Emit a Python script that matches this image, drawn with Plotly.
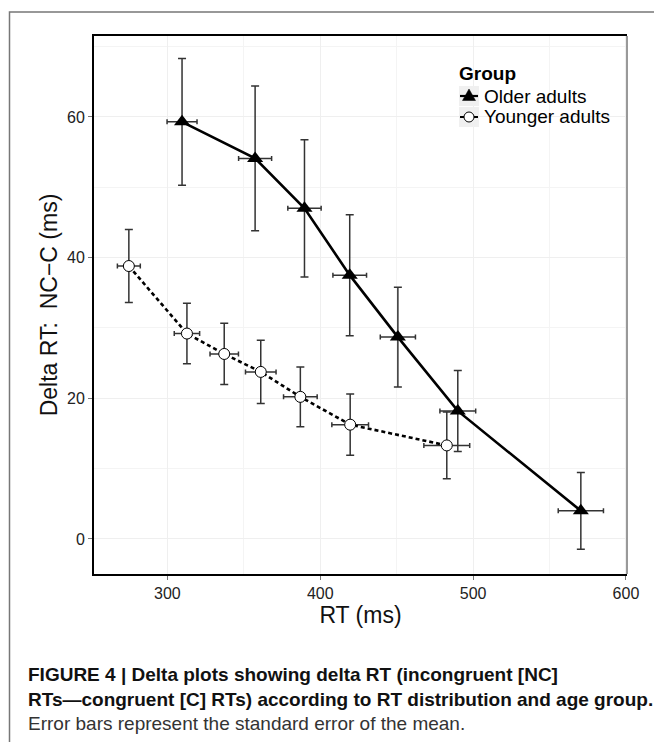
import plotly.graph_objects as go

# ---- data ----
groups = ["Older adults", "Younger adults"]

older_rt = [309.6, 357.4, 389.7, 419.3, 450.8, 490.0, 570.5]
older_delta = [59.3, 54.1, 47.0, 37.5, 28.7, 18.2, 4.0]
older_se_delta = [9.0, 10.3, 9.75, 8.6, 7.1, 5.75, 5.45]
older_se_rt = [9.8, 10.8, 10.9, 11.0, 11.5, 11.7, 14.8]

younger_rt = [274.8, 312.8, 337.2, 361.1, 387.0, 419.6, 482.8]
younger_delta = [38.8, 29.2, 26.3, 23.75, 20.2, 16.25, 13.3]
younger_se_delta = [5.2, 4.3, 4.35, 4.5, 4.25, 4.35, 4.75]
younger_se_rt = [7.5, 8.3, 9.3, 10.0, 11.0, 12.0, 15.0]

x_ticks = [300, 400, 500, 600]
y_ticks = [0, 20, 40, 60]

x_title = "RT (ms)"
y_title = "Delta RT:\u00a0 NC\u2212C (ms)"
legend_title = "Group"
caption_lines = [
    "<b>FIGURE 4 | Delta plots showing delta RT (incongruent [NC]</b>",
    "<b>RTs\u2014congruent [C] RTs) according to RT distribution and age group.</b>",
    "Error bars represent the standard error of the mean.",
]

# ---- layout geometry (page pixels; the page body has an 8px default margin) ----
OFF = 8
PAGE_W, PAGE_H = 662, 742
W, H = PAGE_W - OFF, PAGE_H - OFF
PLOT_L, PLOT_R, PLOT_T, PLOT_B = 94, 627, 36, 574  # page px
ML = PLOT_L - OFF
MT = PLOT_T - OFF
MR = W - (PLOT_R - OFF)
MB = H - (PLOT_B - OFF)
PW, PH = PLOT_R - PLOT_L, PLOT_B - PLOT_T


def pxx(px):
    return (px - PLOT_L) / PW


def pxy(py):
    return (PLOT_B - py) / PH


FONT = "Liberation Sans, Arial, Helvetica, sans-serif"
ERR_COL = "#333333"

fig = go.Figure()

fig.add_trace(go.Scatter(
    x=older_rt, y=older_delta, mode="lines+markers", name=groups[0],
    line=dict(color="black", width=2.6),
    marker=dict(symbol="triangle-up", size=14, color="black"),
    error_y=dict(type="data", array=older_se_delta, color=ERR_COL, thickness=1.5, width=4),
    error_x=dict(type="data", array=older_se_rt, color=ERR_COL, thickness=1.5, width=2.5),
    showlegend=False,
))
fig.add_trace(go.Scatter(
    x=younger_rt, y=younger_delta, mode="lines+markers", name=groups[1],
    line=dict(color="black", width=2.6, dash="4px,3px"),
    marker=dict(symbol="circle", size=11, color="white", line=dict(color="black", width=1)),
    error_y=dict(type="data", array=younger_se_delta, color=ERR_COL, thickness=1.5, width=4),
    error_x=dict(type="data", array=younger_se_rt, color=ERR_COL, thickness=1.5, width=2.5),
    showlegend=False,
))

shapes = []
annotations = []

# outer figure frame (gray, open to the right/bottom edges)
shapes.append(dict(type="rect", xref="paper", yref="paper",
                   x0=pxx(9.5), x1=pxx(720), y0=pxy(12), y1=pxy(800),
                   line=dict(color="#777777", width=1.5), layer="below"))
# right panel border (gray)
shapes.append(dict(type="line", xref="paper", yref="paper",
                   x0=1, x1=1, y0=0, y1=1, line=dict(color="#777777", width=1.5)))

# ---- manual legend ----
annotations.append(dict(xref="paper", yref="paper", x=pxx(457), y=pxy(73),
                        xanchor="left", yanchor="middle", showarrow=False,
                        text="<b>%s</b>" % legend_title,
                        font=dict(family=FONT, size=19, color="black")))
key_rows = [96, 117]
for row, name in zip(key_rows, groups):
    shapes.append(dict(type="rect", xref="paper", yref="paper",
                       x0=pxx(459), x1=pxx(479), y0=pxy(row + 10), y1=pxy(row - 10),
                       fillcolor="#f0f0f0", line=dict(width=0), layer="above"))
    annotations.append(dict(xref="paper", yref="paper", x=pxx(482), y=pxy(row),
                            xanchor="left", yanchor="middle", showarrow=False,
                            text=name, font=dict(family=FONT, size=19, color="black")))
# older key: line stub + triangle
shapes.append(dict(type="line", xref="paper", yref="paper",
                   x0=pxx(460), x1=pxx(478), y0=pxy(96), y1=pxy(96),
                   line=dict(color="black", width=2.2)))
shapes.append(dict(type="path", xref="paper", yref="paper",
                   path="M %f,%f L %f,%f L %f,%f Z" % (pxx(462.5), pxy(100.5), pxx(475.5), pxy(100.5),
                                                       pxx(469), pxy(89)),
                   fillcolor="black", line=dict(color="black", width=0.5)))
# younger key: dashed stub + circle
shapes.append(dict(type="line", xref="paper", yref="paper",
                   x0=pxx(460), x1=pxx(478), y0=pxy(117), y1=pxy(117),
                   line=dict(color="black", width=2.2, dash="4px,3px")))
shapes.append(dict(type="circle", xref="paper", yref="paper",
                   x0=pxx(464), x1=pxx(474), y0=pxy(122), y1=pxy(112),
                   fillcolor="white", line=dict(color="black", width=1)))

# ---- caption ----
cap_y = [674, 699, 723]
cap_col = ["#111111", "#111111", "#333333"]
for txt, yy, col in zip(caption_lines, cap_y, cap_col):
    annotations.append(dict(xref="paper", yref="paper", x=pxx(26), y=pxy(yy),
                            xanchor="left", yanchor="middle", showarrow=False,
                            text=txt, font=dict(family=FONT, size=19, color=col)))

fig.update_layout(
    width=W, height=H,
    margin=dict(l=ML, r=MR, t=MT, b=MB, pad=0),
    paper_bgcolor="white", plot_bgcolor="white",
    font=dict(family=FONT, color="#222222"),
    shapes=shapes, annotations=annotations,
)

fig.update_xaxes(
    range=[252, 600.7], tickvals=x_ticks, ticktext=[str(v) for v in x_ticks],
    ticks="outside", ticklen=4, tickwidth=1, tickcolor="#777777",
    tickfont=dict(family=FONT, size=16, color="#222222"),
    showgrid=True, gridcolor="#efefef", gridwidth=1,
    minor=dict(dtick=50, tick0=250, showgrid=True, gridcolor="#f4f4f4", gridwidth=1, ticks=""),
    showline=True, linecolor="black", linewidth=2, mirror=True,
    zeroline=False,
    title=dict(text=x_title, font=dict(family=FONT, size=23, color="#111111"), standoff=3),
)
fig.update_yaxes(
    range=[-4.98, 71.5], tickvals=y_ticks, ticktext=[str(v) for v in y_ticks],
    ticks="outside", ticklen=4, tickwidth=1, tickcolor="#777777",
    tickfont=dict(family=FONT, size=16, color="#222222"),
    showgrid=True, gridcolor="#efefef", gridwidth=1,
    minor=dict(dtick=10, tick0=0, showgrid=True, gridcolor="#f4f4f4", gridwidth=1, ticks=""),
    showline=True, linecolor="black", linewidth=2, mirror=False,
    zeroline=False,
    title=dict(text=y_title, font=dict(family=FONT, size=23, color="#111111"), standoff=3),
)

fig.write_html("out.html")
